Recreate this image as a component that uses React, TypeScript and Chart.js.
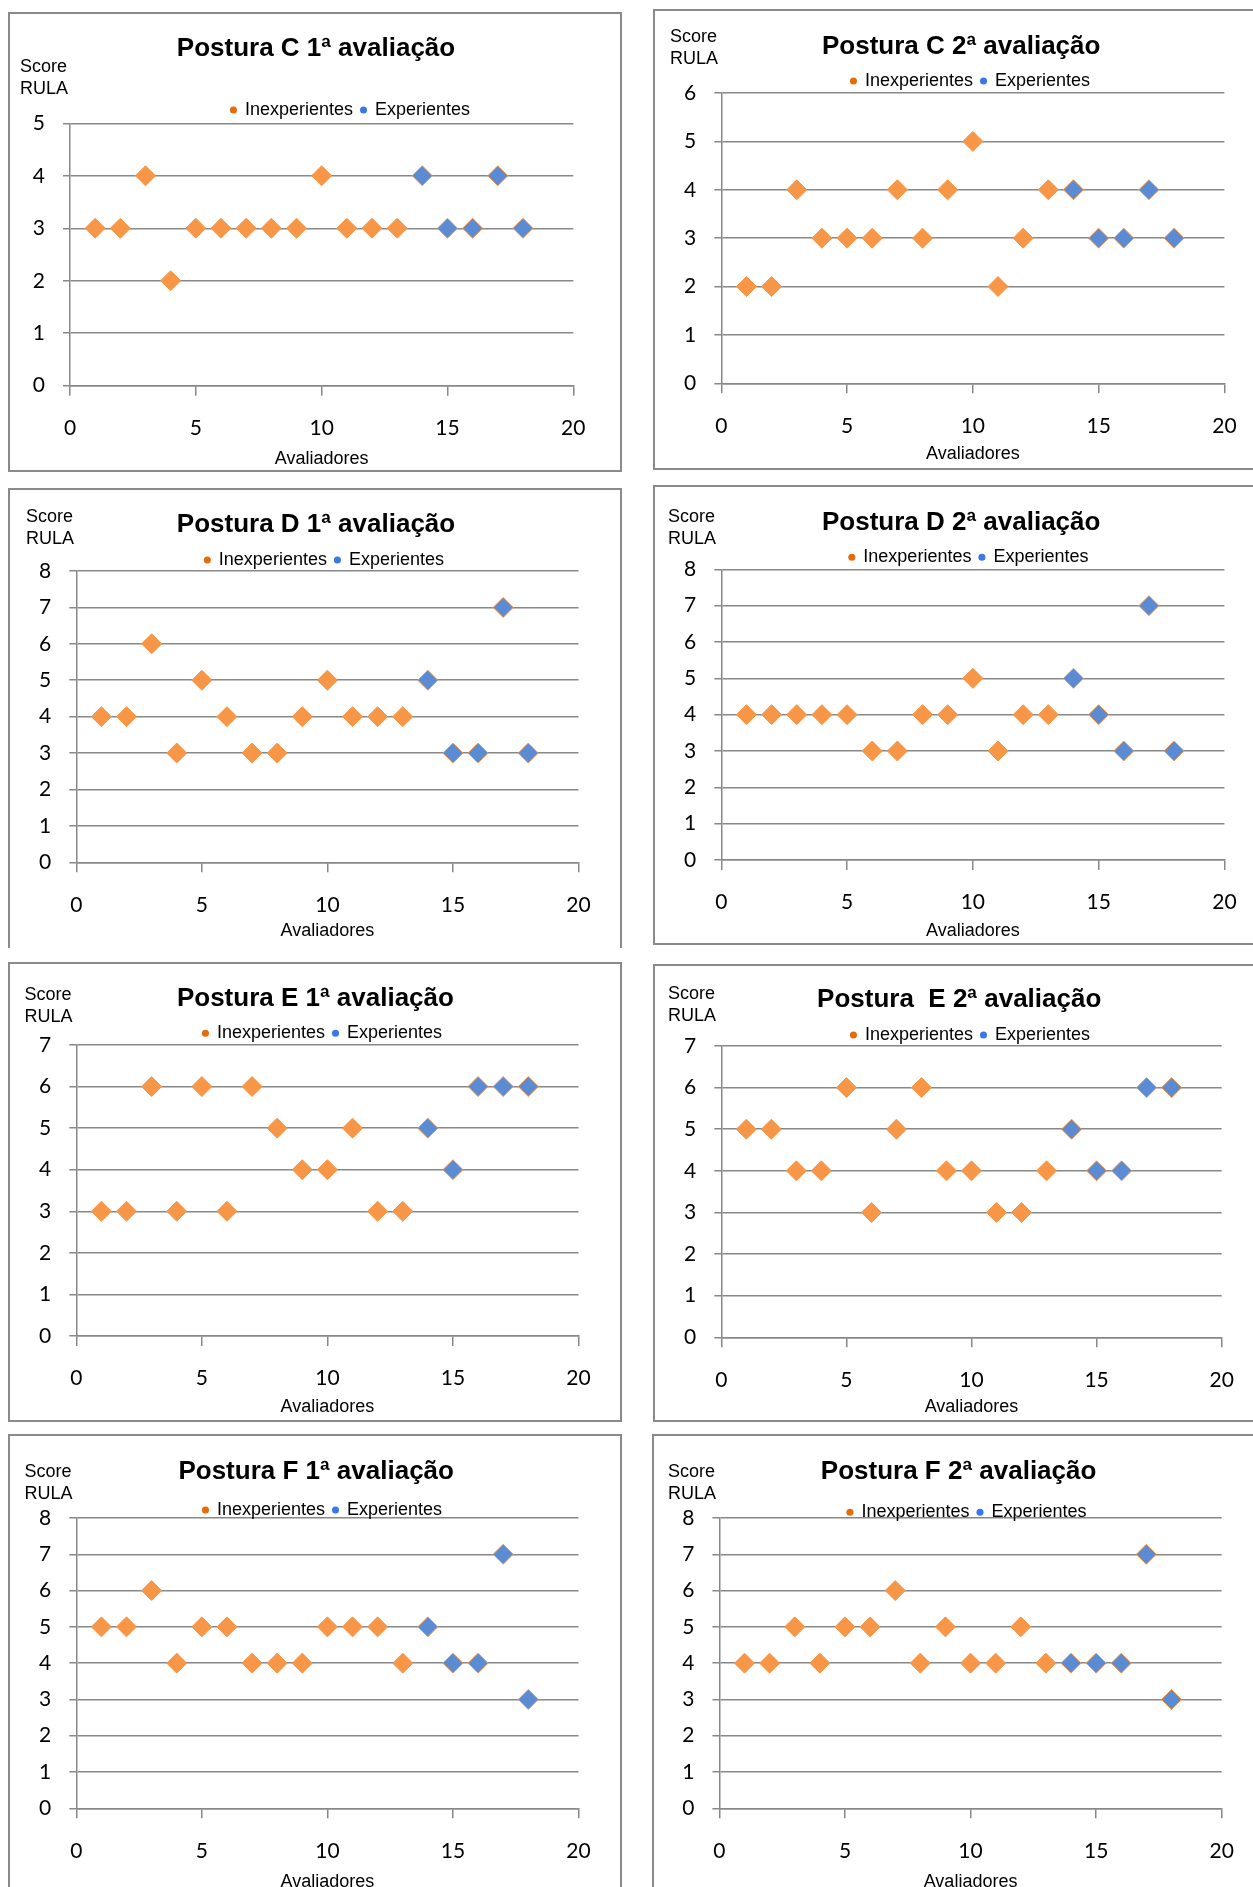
import React, { useEffect, useRef } from 'react';
import { Chart, registerables } from 'chart.js';

Chart.register(...registerables);

// ---------- DATA ----------
const avaliadoresInexperientes = [1, 2, 3, 4, 5, 6, 7, 8, 9, 10, 11, 12, 13];
const avaliadoresExperientes = [14, 15, 16, 17, 18];
const seriesNames = ['Inexperientes', 'Experientes'];
const xAxisTitle = 'Avaliadores';
const yAxisTitle = ['Score', 'RULA'];
const xTickStep = 5;
const xMax = 20;

const posturaC1Inexp = [3, 3, 4, 2, 3, 3, 3, 3, 3, 4, 3, 3, 3];
const posturaC1Exp = [4, 3, 3, 4, 3];
const posturaC2Inexp = [2, 2, 4, 3, 3, 3, 4, 3, 4, 5, 2, 3, 4];
const posturaC2Exp = [4, 3, 3, 4, 3];
const posturaD1Inexp = [4, 4, 6, 3, 5, 4, 3, 3, 4, 5, 4, 4, 4];
const posturaD1Exp = [5, 3, 3, 7, 3];
const posturaD2Inexp = [4, 4, 4, 4, 4, 3, 3, 4, 4, 5, 3, 4, 4];
const posturaD2Exp = [5, 4, 3, 7, 3];
const posturaE1Inexp = [3, 3, 6, 3, 6, 3, 6, 5, 4, 4, 5, 3, 3];
const posturaE1Exp = [5, 4, 6, 6, 6];
const posturaE2Inexp = [5, 5, 4, 4, 6, 3, 5, 6, 4, 4, 3, 3, 4];
const posturaE2Exp = [5, 4, 4, 6, 6];
const posturaF1Inexp = [5, 5, 6, 4, 5, 5, 4, 4, 4, 5, 5, 5, 4];
const posturaF1Exp = [5, 4, 4, 7, 3];
const posturaF2Inexp = [4, 4, 5, 4, 5, 5, 6, 4, 5, 4, 4, 5, 4];
const posturaF2Exp = [4, 4, 4, 7, 3];

const panelTitles = [
  'Postura C 1ª avaliação',
  'Postura C 2ª avaliação',
  'Postura D 1ª avaliação',
  'Postura D 2ª avaliação',
  'Postura E 1ª avaliação',
  'Postura  E 2ª avaliação',
  'Postura F 1ª avaliação',
  'Postura F 2ª avaliação',
];
const panelYMax = [5, 6, 8, 8, 7, 7, 8, 8];
const panelInexp = [posturaC1Inexp, posturaC2Inexp, posturaD1Inexp, posturaD2Inexp, posturaE1Inexp, posturaE2Inexp, posturaF1Inexp, posturaF2Inexp];
const panelExp = [posturaC1Exp, posturaC2Exp, posturaD1Exp, posturaD2Exp, posturaE1Exp, posturaE2Exp, posturaF1Exp, posturaF2Exp];

// ---------- LAYOUT (page coordinates) ----------
type Geo = {
  box: { x: number; y: number; w: number; h: number; noBottom?: boolean };
  plot: { l: number; r: number; t: number; b: number };
  title: { x: number; y: number };
  legend: { x: number; y: number };
  score: { x: number; y: number };
  xTitleY: number;
};

const geos: Geo[] = [
  { box: { x: 8, y: 12, w: 614, h: 460 }, plot: { l: 70, r: 573.3, t: 123.3, b: 385.7 }, title: { x: 316, y: 49 }, legend: { x: 350.5, y: 110 }, score: { x: 20, y: 67 }, xTitleY: 459 },
  { box: { x: 653, y: 9, w: 640, h: 461 }, plot: { l: 721.3, r: 1224.4, t: 93, b: 383.3 }, title: { x: 961.2, y: 46.7 }, legend: { x: 970.5, y: 81 }, score: { x: 670, y: 36.7 }, xTitleY: 454 },
  { box: { x: 8, y: 488, w: 614, h: 460, noBottom: true }, plot: { l: 76.3, r: 578.5, t: 571, b: 862.3 }, title: { x: 316, y: 525 }, legend: { x: 324.4, y: 560 }, score: { x: 26, y: 516.7 }, xTitleY: 930.7 },
  { box: { x: 653, y: 485, w: 640, h: 460 }, plot: { l: 721.3, r: 1224.4, t: 569.3, b: 860 }, title: { x: 961.2, y: 522.7 }, legend: { x: 968.9, y: 557.3 }, score: { x: 668, y: 516.7 }, xTitleY: 930.7 },
  { box: { x: 8, y: 962, w: 614, h: 460 }, plot: { l: 76.3, r: 578.5, t: 1045, b: 1336 }, title: { x: 315.4, y: 999.3 }, legend: { x: 322.5, y: 1033.3 }, score: { x: 24.5, y: 995 }, xTitleY: 1407.3 },
  { box: { x: 653, y: 964, w: 640, h: 458 }, plot: { l: 721.3, r: 1221.7, t: 1046, b: 1337.3 }, title: { x: 959.2, y: 1000 }, legend: { x: 970.5, y: 1035 }, score: { x: 668, y: 994 }, xTitleY: 1407.3 },
  { box: { x: 8, y: 1434, w: 614, h: 500 }, plot: { l: 76.3, r: 578.5, t: 1518, b: 1808.3 }, title: { x: 316.2, y: 1471.7 }, legend: { x: 322.5, y: 1510 }, score: { x: 24.5, y: 1471.7 }, xTitleY: 1881.7 },
  { box: { x: 652, y: 1434, w: 640, h: 500 }, plot: { l: 719.4, r: 1221.7, t: 1518, b: 1808.3 }, title: { x: 958.6, y: 1471.7 }, legend: { x: 967, y: 1512.3 }, score: { x: 668, y: 1471.7 }, xTitleY: 1881.7 },
];

// ---------- STYLE ----------
const ORANGE = '#F79646';
const BLUE = '#5A8BD3';
const LEG_ORANGE = '#E46C0A';
const LEG_BLUE = '#3B78E7';
const GRID = '#888888';
const SANS = "'Liberation Sans', Arial, sans-serif";
const TICKFONT = "Lato, 'Liberation Sans', sans-serif";

const TITLE_SIZE = 26;
const TITLE_H = TITLE_SIZE * 1.2;
const LEG_SIZE = 18;
const LEG_PAD = 8;
const LEG_H = LEG_SIZE + LEG_PAD + 10;
const Y_AXIS_W = 50;
const MARKER_R = 10;

function PanelChart({ idx }: { idx: number }) {
  const ref = useRef<HTMLCanvasElement>(null);
  const g = geos[idx];
  const W = g.box.w;
  const H = g.box.h;

  useEffect(() => {
    const L = g.plot.l - g.box.x;
    const R = g.plot.r - g.box.x;
    const T = g.plot.t - g.box.y;
    const B = g.plot.b - g.box.y;
    const Hx = g.xTitleY - g.plot.b + 10.8;

    const placePlugin = {
      id: 'place' + idx,
      afterLayout(chart: any) {
        const t = chart.titleBlock;
        if (t) {
          const ty = g.title.y - g.box.y;
          const tx = g.title.x - g.box.x;
          t.top = ty - TITLE_H / 2;
          t.bottom = t.top + TITLE_H;
          t.left = tx - 300;
          t.right = tx + 300;
          t.width = 600;
          t.height = TITLE_H;
        }
        const lg = chart.legend;
        if (lg) {
          const ly = g.legend.y - g.box.y;
          const lx = g.legend.x - g.box.x;
          lg.top = ly - LEG_PAD - LEG_SIZE / 2;
          lg.bottom = lg.top + LEG_H;
          lg.left = lx - 300;
          lg.right = lx + 300;
          lg.width = 600;
          lg.height = LEG_H;
        }
      },
      afterDraw(chart: any) {
        const ctx = chart.ctx;
        ctx.save();
        ctx.font = `18px ${SANS}`;
        ctx.fillStyle = '#000';
        ctx.textAlign = 'left';
        ctx.textBaseline = 'middle';
        const sx = g.score.x - g.box.x;
        const sy = g.score.y - g.box.y;
        ctx.fillText(yAxisTitle[0], sx, sy);
        ctx.fillText(yAxisTitle[1], sx, sy + 22);
        ctx.restore();
      },
    };

    const chart = new Chart(ref.current as HTMLCanvasElement, {
      type: 'scatter',
      data: {
        datasets: [
          {
            label: seriesNames[0],
            data: avaliadoresInexperientes.map((x, i) => ({ x, y: panelInexp[idx][i] })),
            pointStyle: 'rectRot',
            pointRadius: MARKER_R,
            pointHoverRadius: MARKER_R,
            backgroundColor: ORANGE,
            borderColor: ORANGE,
            borderWidth: 1,
            showLine: false,
          },
          {
            label: seriesNames[1],
            data: avaliadoresExperientes.map((x, i) => ({ x, y: panelExp[idx][i] })),
            pointStyle: 'rectRot',
            pointRadius: MARKER_R,
            pointHoverRadius: MARKER_R,
            backgroundColor: BLUE,
            borderColor: ORANGE,
            borderWidth: 1,
            showLine: false,
          },
        ],
      },
      options: {
        animation: false,
        responsive: false,
        devicePixelRatio: 1,
        events: [],
        layout: {
          padding: {
            left: L - Y_AXIS_W,
            right: W - R,
            top: T - TITLE_H - LEG_H,
            bottom: H - B - Hx,
          },
        },
        plugins: {
          tooltip: { enabled: false },
          title: {
            display: true,
            text: panelTitles[idx],
            color: '#000',
            font: { family: SANS, size: TITLE_SIZE, weight: 'bold', lineHeight: 1.2 },
            padding: 0,
          },
          legend: {
            display: true,
            position: 'top',
            labels: {
              color: '#000',
              font: { family: SANS, size: LEG_SIZE },
              usePointStyle: true,
              boxWidth: 5,
              boxHeight: 5,
              padding: LEG_PAD,
              generateLabels: () => [
                { text: seriesNames[0], fillStyle: LEG_ORANGE, strokeStyle: LEG_ORANGE, lineWidth: 0, pointStyle: 'circle', hidden: false, datasetIndex: 0, fontColor: '#000' },
                { text: seriesNames[1], fillStyle: LEG_BLUE, strokeStyle: LEG_BLUE, lineWidth: 0, pointStyle: 'circle', hidden: false, datasetIndex: 1, fontColor: '#000' },
              ],
            },
          },
        },
        scales: {
          x: {
            type: 'linear',
            min: 0,
            max: xMax,
            afterFit: (s: any) => {
              s.height = Hx;
            },
            ticks: {
              stepSize: xTickStep,
              color: '#000',
              font: { family: TICKFONT, size: 21 },
              padding: 20,
              maxRotation: 0,
              autoSkip: false,
            },
            grid: {
              display: true,
              drawOnChartArea: false,
              drawTicks: true,
              tickLength: 10,
              color: GRID,
              lineWidth: 1.5,
            },
            border: { display: true, color: GRID, width: 1.5 },
            title: {
              display: true,
              text: xAxisTitle,
              color: '#000',
              font: { family: SANS, size: 18, lineHeight: 1.2 },
              padding: 0,
            },
          },
          y: {
            type: 'linear',
            min: 0,
            max: panelYMax[idx],
            afterFit: (s: any) => {
              s.width = Y_AXIS_W;
            },
            ticks: {
              stepSize: 1,
              color: '#000',
              font: { family: TICKFONT, size: 21 },
              padding: 18,
            },
            grid: {
              display: true,
              drawOnChartArea: true,
              drawTicks: true,
              tickLength: 7,
              color: GRID,
              lineWidth: 1.5,
            },
            border: { display: true, color: GRID, width: 1.5 },
          },
        },
      } as any,
      plugins: [placePlugin as any],
    });
    return () => chart.destroy();
  }, []);

  return (
    <>
      <div
        style={{
          position: 'absolute',
          left: g.box.x,
          top: g.box.y,
          width: g.box.w,
          height: g.box.h,
          boxSizing: 'border-box',
          borderStyle: 'solid',
          borderColor: '#8a8a8a',
          borderWidth: g.box.noBottom ? '2px 2px 0 2px' : '2px',
          background: '#fff',
        }}
      />
      <canvas
        ref={ref}
        width={W}
        height={H}
        style={{ position: 'absolute', left: g.box.x, top: g.box.y, width: W, height: H }}
      />
    </>
  );
}

export default function App() {
  return (
    <div
      style={{
        position: 'absolute',
        left: 0,
        top: 0,
        width: 1253,
        height: 1887,
        overflow: 'hidden',
        background: '#fff',
      }}
    >
      {geos.map((_, i) => (
        <PanelChart key={i} idx={i} />
      ))}
    </div>
  );
}
